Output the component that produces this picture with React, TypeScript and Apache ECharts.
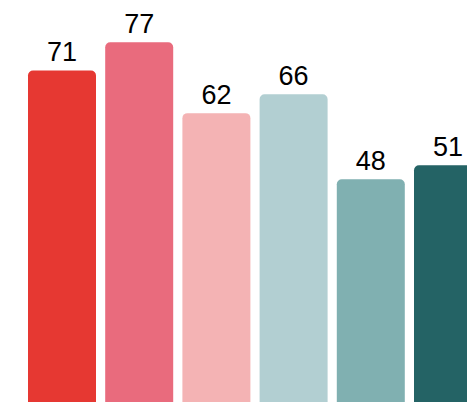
import React, { useEffect, useRef } from "react";
import * as echarts from "echarts";

const categories = ["A", "B", "C", "D", "E", "F"];
const values = [71, 77, 62, 66, 48, 51];
const colors = ["#e63832", "#e96b7d", "#f4b3b4", "#b2cfd2", "#80b0b1", "#246365"];

export default function App() {
  const ref = useRef<HTMLDivElement>(null);
  useEffect(() => {
    if (!ref.current) return;
    const chart = echarts.init(ref.current, null, { renderer: "svg" });
    chart.setOption({
      animation: false,
      grid: { left: 23.4, width: 463.2, top: 28, height: 378.4, outerBoundsMode: "none" },
      xAxis: {
        type: "category",
        data: categories,
        show: false,
      },
      yAxis: { type: "value", min: 0, max: 80, show: false },
      series: [
        {
          type: "bar",
          barWidth: 68,
          data: values.map((v, i) => ({
            value: v,
            itemStyle: { color: colors[i], borderRadius: [5, 5, 0, 0] },
          })),
          label: {
            show: true,
            position: "top",
            distance: 5,
            color: "#000",
            fontSize: 27,
            fontFamily: "Liberation Sans, Arial, sans-serif",
          },
        },
      ],
    });
    return () => chart.dispose();
  }, []);
  return <div ref={ref} style={{ width: 467, height: 402, position: "absolute", left: 0, top: 0 }} />;
}
